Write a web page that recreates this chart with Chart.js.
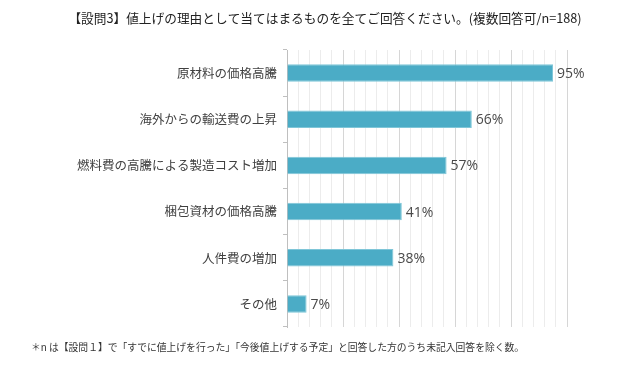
<!DOCTYPE html>
<html lang="ja">
<head>
<meta charset="utf-8">
<script src="https://cdn.jsdelivr.net/npm/chart.js@4/dist/chart.umd.min.js"></script>
<style>
  html, body { margin: 0; padding: 0; background: #fff; }
  #wrap { width: 640px; height: 365px; position: relative; }
</style>
</head>
<body>
<div id="wrap"><canvas id="grafico"></canvas></div>
<script>
// dados do gráfico
const titulo = '【設問3】値上げの理由として当てはまるものを全てご回答ください。(複数回答可/n=188)';
const notaRodape = '＊n は【設問１】で「すでに値上げを行った」「今後値上げする予定」と回答した方のうち未記入回答を除く数。';
const categorias = ['原材料の価格高騰', '海外からの輸送費の上昇', '燃料費の高騰による製造コスト増加', '梱包資材の価格高騰', '人件費の増加', 'その他'];
const valores = [95, 66, 57, 41, 38, 7];

const fonteJP = '"Noto Sans CJK JP", "Noto Sans", sans-serif';

// título e nota desenhados no canvas
const pluginTextos = {
    id: 'textos',
    afterDraw(chart) {
        const c = chart.ctx;
        c.save();
        c.fillStyle = '#222';
        c.font = '12.7px ' + fonteJP;
        c.textAlign = 'center';
        c.textBaseline = 'middle';
        c.fillText(titulo, 325, 18);
        c.fillStyle = '#333';
        c.font = '9.8px ' + fonteJP;
        c.textAlign = 'left';
        c.fillText(notaRodape, 31, 347);
        c.restore();
    }
};

// rótulos de porcentagem no fim das barras
const pluginRotulos = {
    id: 'rotulos',
    afterDatasetsDraw(chart) {
        const c = chart.ctx;
        const meta = chart.getDatasetMeta(0);
        c.save();
        c.fillStyle = '#4a4a4a';
        c.font = '14px "Open Sans", sans-serif';
        c.textAlign = 'left';
        c.textBaseline = 'middle';
        meta.data.forEach((bar, i) => {
            c.fillText(valores[i] + '%', bar.x + 4, bar.y + 1);
        });
        c.restore();
    }
};

new Chart(document.getElementById('grafico'), {
    type: 'bar',
    data: {
        labels: categorias,
        datasets: [{
            data: valores,
            backgroundColor: '#4BACC6',
            borderColor: '#7fc6d8',
            borderWidth: 1,
            borderSkipped: 'left',
            categoryPercentage: 1,
            barPercentage: 0.38
        }]
    },
    options: {
        indexAxis: 'y',
        responsive: true,
        maintainAspectRatio: false,
        animation: false,
        layout: { padding: { left: 0, right: 73, top: 50, bottom: 38 } },
        plugins: {
            legend: { display: false },
            tooltip: { enabled: false }
        },
        scales: {
            x: {
                min: 0,
                max: 100,
                ticks: { display: false, stepSize: 4 },
                border: { display: false },
                grid: {
                    drawTicks: false,
                    color: ctx => (ctx.tick && ctx.tick.value % 20 === 0) ? '#d6d6d6' : '#ececec'
                }
            },
            y: {
                afterFit(scale) { scale.width = 287; },
                ticks: {
                    color: '#404040',
                    font: { family: fonteJP, size: 12.5 },
                    padding: 6
                },
                border: { display: true, color: '#bfbfbf' },
                grid: {
                    drawOnChartArea: false,
                    tickLength: 4,
                    color: '#bfbfbf'
                }
            }
        }
    },
    plugins: [pluginTextos, pluginRotulos]
});
</script>
</body>
</html>
